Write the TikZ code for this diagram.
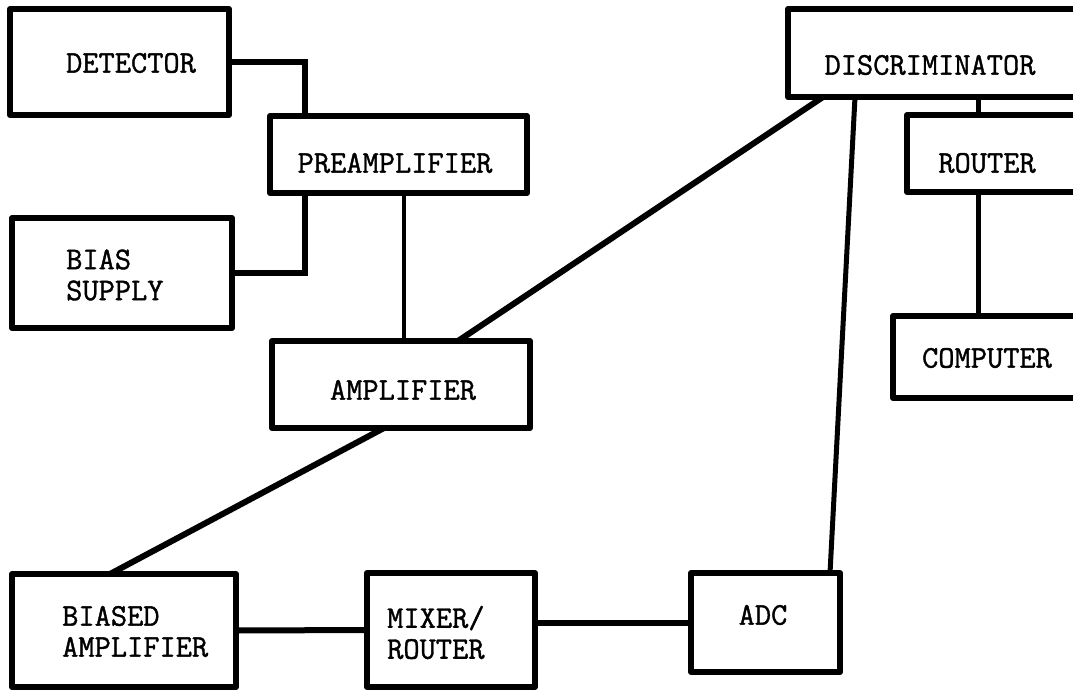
\documentclass[tikz,border=0pt]{standalone}
\usepackage{fontspec}
\newfontfamily\typew{Latin Modern Mono}[FakeBold=1.2]
\begin{document}
\begin{tikzpicture}[x=1pt,y=-1pt,
  box/.style={draw, line width=6pt, inner sep=0pt, outer sep=0pt, line join=round},
  lbl/.style={font=\typew\fontsize{31.5}{31}\selectfont, inner sep=0pt, align=left},
  conn/.style={line width=6pt},
  thinconn/.style={line width=4.2pt},
  midconn/.style={line width=5pt}]
\useasboundingbox (0,0) rectangle (1073,694);
\clip (0,0) rectangle (1073,694);
\fill[white] (0,0) rectangle (1073,694);
% boxes
\node[box, minimum width=219pt, minimum height=106pt] (det)  at (119.5,62)  {};
\node[box, minimum width=257pt, minimum height=77pt]  (pre)  at (398.5,154.5) {};
\node[box, minimum width=220pt, minimum height=110pt] (bias) at (122,273) {};
\node[box, minimum width=258pt, minimum height=87pt]  (amp)  at (401,384.5) {};
\node[box, minimum width=224pt, minimum height=113pt] (bamp) at (124,630.5) {};
\node[box, minimum width=168pt, minimum height=114pt] (mix)  at (451,630) {};
\node[box, minimum width=149pt, minimum height=99pt]  (adc)  at (765.5,622.5) {};
\node[box, minimum width=297pt, minimum height=88pt]  (disc) at (936.5,53) {};
\node[box, minimum width=178pt, minimum height=77pt]  (rout) at (996,153.5) {};
\node[box, minimum width=192pt, minimum height=82pt]  (comp) at (989,357) {};
% labels
\node[lbl] (detT)  at (131,63)  {DETECTOR};
\node[lbl] (preT)  at (395,163) {PREAMPLIFIER};
\node[lbl, anchor=west] (biasT) at (66,275) {BIAS\\SUPPLY};
\node[lbl] (ampT)  at (403,390) {AMPLIFIER};
\node[lbl, anchor=west] (bampT) at (62,631.5) {BIASED\\AMPLIFIER};
\node[lbl, anchor=west] (mixT)  at (387,632.5) {MIXER/\\ROUTER};
\node[lbl] (adcT)  at (763,615) {ADC};
\node[lbl] (discT) at (930,65)  {DISCRIMINATOR};
\node[lbl] (routT) at (987,163) {ROUTER};
\node[lbl] (compT) at (987,358) {COMPUTER};
% connectors
\draw[conn] (det.east) -| ([xshift=35pt]pre.north west);
\draw[conn] (bias.east) -| ([xshift=35pt]pre.south west);
\draw[thinconn] ([xshift=134pt]pre.south west) coordinate (pa) -- (pa |- amp.north);
\draw[conn] ([xshift=186pt]amp.north west) -- ([xshift=35pt]disc.south west);
\draw[conn] ([xshift=112pt]amp.south west) -- ([xshift=98pt]bamp.north west);
\draw[midconn] ([xshift=67pt]disc.south west) -- ([xshift=139pt]adc.north west);
\draw[conn] (bamp.east) -- (mix.west);
\draw[conn] (mix.east |- adc.west) -- (adc.west);
\draw[midconn] ([xshift=190pt]disc.south west) coordinate (dr) -- (dr |- rout.north);
\draw[midconn] ([xshift=71pt]rout.south west) coordinate (rc) -- (rc |- comp.north);
\end{tikzpicture}
\end{document}
